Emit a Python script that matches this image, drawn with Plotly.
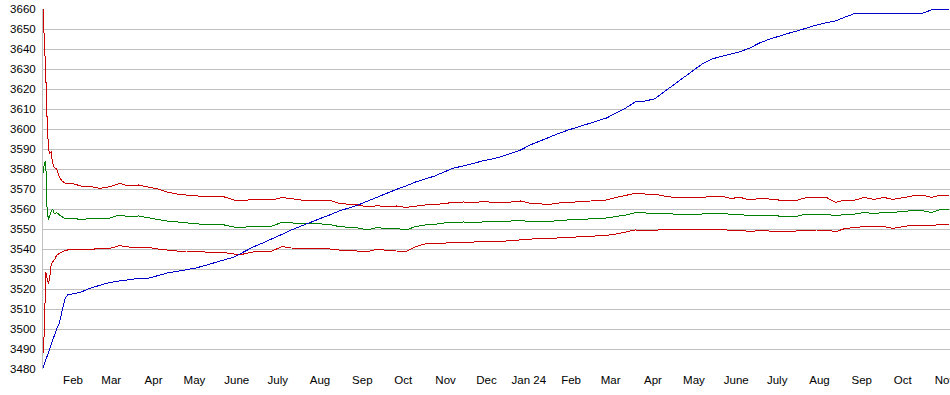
import pandas as pd
import plotly.graph_objects as go

# ---- dates (x categories) ----
early_dates = ["2023-01-10", "2023-01-11", "2023-01-12", "2023-01-13", "2023-01-14",
               "2023-01-15", "2023-01-16", "2023-01-17", "2023-01-18", "2023-01-19",
               "2023-01-20", "2023-01-22", "2023-01-24", "2023-01-26", "2023-01-28",
               "2023-01-31"]
weekly_dates = [d.strftime("%Y-%m-%d") for d in pd.date_range("2023-02-07", "2024-10-29", freq="7D")]
dates = early_dates + weekly_dates + ["2024-11-04"]

# ---- series values ----
blue = [
    3480.5, 3482.5, 3485, 3487, 3489, 3491, 3492.5, 3494, 3496, 3499, 3500, 3503, 3509, 3515, 3517, 3517.5,
    3518.5, 3520.5, 3522, 3523.3,
    3524, 3524.5, 3525.3, 3525.3,
    3526.5, 3528, 3528.8, 3529.5,
    3530.5, 3531.8, 3533.2, 3534.5, 3536,
    3538.5, 3541, 3543, 3545,
    3547.3, 3549.5, 3551.5, 3553.3,
    3555.2, 3557, 3559, 3560.5, 3562,
    3564, 3566, 3568, 3569.8,
    3571.5, 3573.5, 3575, 3576.5, 3578.5,
    3580.5, 3581.5, 3582.8, 3584,
    3585, 3586.2, 3587.8, 3589.5,
    3592, 3594, 3596, 3597.8, 3599.5,
    3601, 3602.5, 3603.8, 3605.5,
    3608, 3610.5, 3613.5, 3614,
    3615, 3618.5, 3622, 3625.7, 3629.3,
    3632.5, 3635, 3636.3, 3637.5,
    3638.7, 3640.5, 3643, 3644.8,
    3646.4, 3647.8, 3649.1, 3650.6, 3652,
    3653.1, 3654.1, 3656, 3657.8,
    3657.8, 3657.8, 3657.8, 3657.8,
    3657.8, 3657.8, 3657.8, 3659.5, 3659.7,
    3659.7,
]

green = [
    3578, 3583, 3584, 3560, 3554.5, 3557, 3559, 3560, 3558, 3557.8, 3558.3, 3557, 3556, 3555.3, 3555.3, 3555.3,
    3554.8, 3555.2, 3555, 3555.5,
    3557, 3556.2, 3556.5, 3555.5,
    3554.8, 3554, 3553.5, 3553,
    3552.5, 3552.2, 3552.5, 3552, 3551,
    3550.8, 3551.5, 3551.5, 3551.5,
    3553.3, 3553, 3552.8, 3552.8,
    3552.5, 3552.3, 3551.2, 3550.8, 3550.5,
    3549.5, 3550.8, 3550, 3550.3,
    3549.5, 3551.2, 3552, 3552.3, 3553,
    3553.3, 3553.5, 3553.3, 3553.6,
    3553.7, 3553.7, 3554, 3554.3,
    3553.7, 3553.7, 3553.7, 3554.3, 3554.5,
    3554.5, 3554.8, 3555.2, 3555.5,
    3556.2, 3557, 3558.2, 3558,
    3558, 3557.5, 3557.5, 3557.5, 3557.5,
    3557.5, 3558, 3558, 3557.3,
    3557.3, 3556.5, 3557, 3557,
    3556.5, 3556.5, 3556.5, 3557.5, 3557.5,
    3557.5, 3556.5, 3557.5, 3557.5,
    3558.3, 3557.7, 3558.3, 3558.3,
    3558.7, 3559.2, 3559.2, 3558.3, 3559.8,
    3559.8,
]

red_upper = [
    3660, 3645, 3628, 3605, 3590, 3588, 3588.5, 3583, 3581, 3580.5, 3580, 3576, 3574, 3573, 3572.8, 3572.8,
    3571.5, 3571.2, 3570.3, 3571.2,
    3572.8, 3571.5, 3572, 3571,
    3570, 3568.5, 3567.5, 3567,
    3566.5, 3566.2, 3566.5, 3566, 3564.5,
    3564.2, 3564.8, 3564.5, 3564.5,
    3565.8, 3565, 3564.5, 3564.5,
    3564.5, 3564.5, 3562.8, 3562.3, 3562,
    3561, 3561.7, 3561, 3561.5,
    3560.8, 3561.5, 3562, 3562.2, 3562.8,
    3563.3, 3563.5, 3563.3, 3563.6,
    3563.3, 3563.3, 3563.5, 3564,
    3562.8, 3562.5, 3562.3, 3563, 3563.3,
    3563.3, 3563.7, 3564.2, 3564.5,
    3565.8, 3566.7, 3567.8, 3567.5,
    3567.5, 3566.5, 3565.8, 3565.8, 3565.8,
    3565.8, 3566.3, 3566.5, 3565.3,
    3565.8, 3564.5, 3565.3, 3565,
    3564.5, 3564.5, 3564.5, 3565.8, 3565.8,
    3565.8, 3563.3, 3564.5, 3564.5,
    3565.8, 3564.8, 3565.8, 3564.8,
    3565.8, 3566.5, 3567, 3565.8, 3567,
    3567,
]

red_lower = [
    3488, 3499, 3528.5, 3525, 3522.5, 3526, 3532, 3533.5, 3534.2, 3535.3, 3537, 3537.8, 3538.7, 3539.2, 3539.5, 3539.5,
    3539.8, 3539.8, 3540.3, 3540.3,
    3541.7, 3541, 3541, 3540.8,
    3540, 3539.5, 3539, 3539,
    3538.7, 3538.5, 3538.5, 3538.2, 3537.5,
    3537.5, 3538.5, 3538.7, 3539,
    3541.2, 3540.5, 3540.3, 3540.3,
    3540.3, 3540, 3539.5, 3539.3, 3539,
    3538.7, 3540, 3539.3, 3539,
    3538.7, 3541.2, 3542.5, 3542.8, 3543,
    3543.2, 3543.5, 3543.5, 3543.6,
    3543.8, 3543.8, 3544.2, 3544.7,
    3545, 3545.3, 3545.3, 3545.5, 3545.8,
    3546, 3546.3, 3546.6, 3546.8,
    3547.5, 3548.5, 3549.5, 3549.3,
    3549.2, 3550, 3549.8, 3549.5, 3549.5,
    3549.6, 3549.8, 3550, 3549.2,
    3549.5, 3548.7, 3549.3, 3549,
    3548.7, 3548.8, 3549, 3549.5, 3549.5,
    3549.5, 3548.7, 3550.3, 3550.8,
    3551.2, 3551.2, 3551.2, 3550.3,
    3551.2, 3552, 3552, 3551.5, 3552.5,
    3552.5,
]

# ---- axis tick labels ----
month_ticks = ["2023-02-01", "2023-03-01", "2023-04-01", "2023-05-01", "2023-06-01",
               "2023-07-01", "2023-08-01", "2023-09-01", "2023-10-01", "2023-11-01",
               "2023-12-01", "2024-01-01", "2024-02-01", "2024-03-01", "2024-04-01",
               "2024-05-01", "2024-06-01", "2024-07-01", "2024-08-01", "2024-09-01",
               "2024-10-01", "2024-11-01"]
month_labels = ["Feb", "Mar", "Apr", "May", "June", "July", "Aug", "Sep", "Oct", "Nov",
                "Dec", "Jan 24", "Feb", "Mar", "Apr", "May", "June", "July", "Aug", "Sep",
                "Oct", "Nov"]
y_ticks = list(range(3480, 3661, 10))

fig = go.Figure()
fig.add_trace(go.Scatter(x=dates, y=red_upper, mode="lines", line=dict(color="#cc0000", width=1)))
fig.add_trace(go.Scatter(x=dates, y=red_lower, mode="lines", line=dict(color="#cc0000", width=1)))
fig.add_trace(go.Scatter(x=dates, y=green, mode="lines", line=dict(color="#008000", width=1)))
fig.add_trace(go.Scatter(x=dates, y=blue, mode="lines", line=dict(color="#0000cc", width=1)))

fig.update_layout(
    width=950, height=395,
    margin=dict(l=43, r=0, t=9, b=26, autoexpand=False),
    paper_bgcolor="white", plot_bgcolor="white",
    showlegend=False, hovermode=False,
    font=dict(family="Liberation Sans, Arial, sans-serif", size=11.5, color="#000000"),
    xaxis=dict(
        type="date", automargin=False,
        range=["2023-01-10", "2024-11-04 16:00"],
        tickmode="array", tickvals=month_ticks, ticktext=month_labels,
        showgrid=False, zeroline=False, showline=False, ticks="",
        ticklabelstandoff=2, ticklabeloverflow="allow",
    ),
    yaxis=dict(
        automargin=False,
        range=[3480, 3660],
        tickmode="array", tickvals=y_ticks,
        showgrid=True, gridcolor="#c0c0c0", gridwidth=1,
        zeroline=False, showline=True, linecolor="#c0c0c0", linewidth=1,
        ticks="", ticklabelstandoff=4, ticklabeloverflow="allow",
    ),
)

post = ("document.body.style.margin='0';document.body.style.overflow='hidden';"
        "var s=document.createElement('style');"
        "s.innerHTML='.scatterlayer path.js-line{shape-rendering:crispEdges;}';"
        "document.head.appendChild(s);")
fig.write_html("out.html", config={"displayModeBar": False}, post_script=post)
